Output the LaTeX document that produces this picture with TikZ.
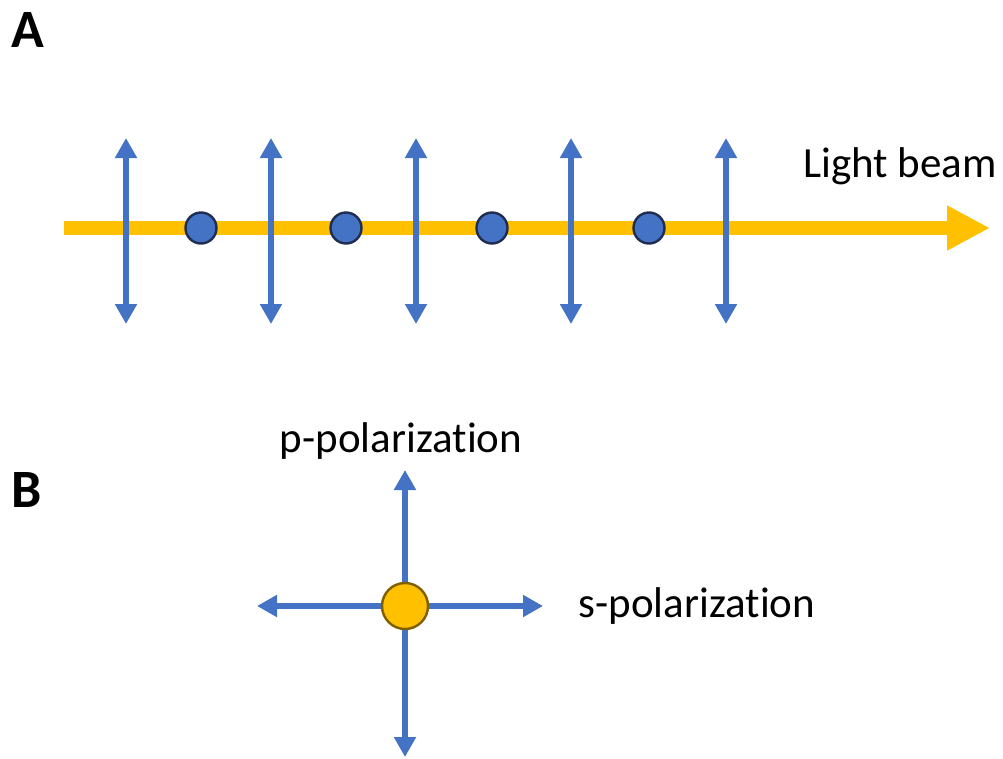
\documentclass[tikz,border=0pt]{standalone}
\usepackage{fontspec}
\setmainfont[Ligatures=NoCommon]{Carlito}
\usetikzlibrary{arrows.meta}
\definecolor{pblue}{HTML}{4472C4}
\definecolor{pyellow}{HTML}{FFC000}
\definecolor{pnavy}{HTML}{1F2D50}
\definecolor{pbrown}{HTML}{7F6000}
\newcommand{\nolig}{\kern0pt }
\tikzset{
  pol/.style={draw=pblue, line width=6pt, {Triangle[length=20pt,width=21pt]}-{Triangle[length=20pt,width=21pt]}},
  polone/.style={draw=pblue, line width=6pt, -{Triangle[length=20pt,width=21pt]}},
  beam/.style={draw=pyellow, line width=14pt, -{Triangle[length=43pt,width=42pt]}},
  sdot/.style={circle, fill=pblue, draw=pnavy, line width=2.4pt, minimum size=31pt, inner sep=0pt},
  ydot/.style={circle, fill=pyellow, draw=pbrown, line width=2.4pt, minimum size=46pt, inner sep=0pt},
  lbl/.style={font=\fontsize{43}{50}\selectfont, inner sep=0pt, anchor=base},
  panel/.style={font=\fontsize{54}{60}\selectfont\bfseries, inner sep=0pt, anchor=base west}
}
\begin{document}
\begin{tikzpicture}[x=1pt,y=-1pt]
\useasboundingbox (0,0) rectangle (1003,758);
% Panel A
\node[panel] (A) at (11,47) {A};
\coordinate (bs) at (64,228);
\coordinate (be) at (990,228);
\draw[beam] (bs) -- (be);
\foreach \x [count=\i] in {126,271,416,571,726} {
  \coordinate (t\i) at (\x,138);
  \coordinate (b\i) at (\x,324);
  \draw[pol] (b\i) -- (t\i);
}
\foreach \x [count=\i] in {201,346,492,649} {
  \node[sdot] (d\i) at (\x,228) {};
}
\node[lbl] (lb) at (900,177) {Light beam};
% Panel B
\node[panel] (B) at (11,507) {B};
\node[lbl] (pp) at (401,452) {p-polarizat\nolig ion};
\node[lbl] (sp) at (697,617) {s-polarizat\nolig ion};
\coordinate (c) at (405,606);
\coordinate (up) at (405,470);
\coordinate (dn) at (405,757);
\coordinate (lf) at (257,606);
\coordinate (rt) at (543,606);
\draw[polone] (c) -- (up);
\draw[polone] (c) -- (dn);
\draw[polone] (c) -- (lf);
\draw[polone] (c) -- (rt);
\node[ydot] (o) at (c) {};
\end{tikzpicture}
\end{document}
